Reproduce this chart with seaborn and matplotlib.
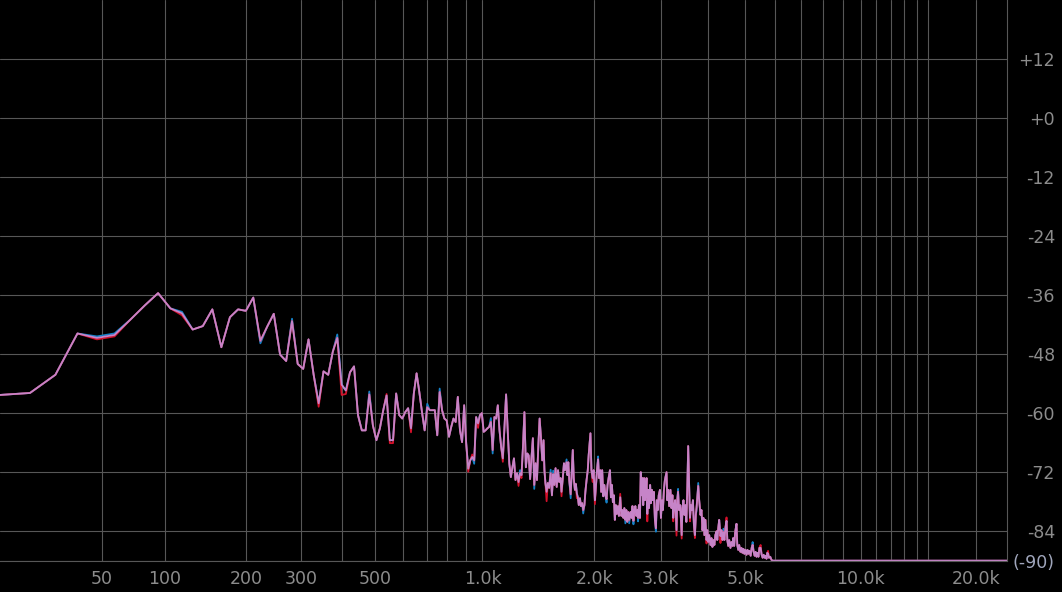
import numpy as np
import matplotlib
matplotlib.use("Agg")
import matplotlib.pyplot as plt
from matplotlib.ticker import NullLocator
import seaborn as sns

# ---------------- data ----------------
BIN_HZ = 48000 / 4096  # FFT bin width (Hz)

# dB per FFT bin, bins 0..125 (0 Hz .. ~1.46 kHz)
low_bin_db = [
    -56.3, -55.9, -52.2, -43.8, -44.7, -44.1, -41.0, -38.1, -35.6, -38.7,
    -39.7, -43.0, -42.3, -38.9, -46.6, -40.5, -38.9, -39.2, -36.5, -45.3,
    -42.4, -39.8, -48.1, -49.4, -41.3, -50.0, -51.0, -45.0, -52.2, -58.0,
    -51.5, -52.2, -47.5, -44.7, -54.2, -55.4, -51.7, -50.5, -60.4, -63.5,
    -63.5, -56.2, -62.5, -65.5, -63.1, -59.4, -56.4, -65.5, -65.5, -56.0,
    -60.4, -61.1, -59.8, -59.0, -63.1, -56.0, -51.9, -55.7, -59.8, -63.5,
    -58.8, -59.4, -59.4, -59.4, -64.5, -55.7, -59.4, -61.1, -61.5, -64.8,
    -62.8, -61.1, -61.8, -56.7, -63.5, -65.9, -58.4, -66.2, -71.3, -69.6,
    -68.9, -69.6, -60.8, -62.1, -60.4, -60.0, -63.8, -63.5, -63.1, -62.8,
    -61.8, -67.5, -60.8, -61.1, -58.4, -63.5, -66.9, -69.2, -62.9, -56.2,
    -63.5, -70.2, -73.0, -71.0, -69.2, -73.6, -72.2, -74.0, -72.2, -72.6,
    -66.9, -59.8, -71.0, -68.2, -68.6, -73.4, -69.0, -65.1, -74.6, -70.2,
    -73.6, -66.9, -61.1, -64.9, -69.6, -65.5,
]

# dense upper part of the spectrum (Hz, dB)
high_hz = [
    1473, 1482, 1493, 1504, 1516, 1531, 1543, 1555, 1566, 1578, 1589, 1602, 1614,
    1627, 1637, 1650, 1662, 1672, 1689, 1698, 1707, 1717,
    1732, 1744, 1755, 1765, 1778, 1789, 1799, 1810, 1821,
    1834, 1845, 1859, 1871, 1885, 1896, 1910, 1924, 1935,
    1956, 1968, 1982, 1995, 2010, 2024, 2036, 2050, 2061,
    2077, 2089, 2102, 2116, 2130, 2144, 2159, 2172, 2186,
    2204, 2217, 2231, 2244, 2258, 2271, 2285, 2298, 2315, 2328,
    2347, 2364, 2379, 2393, 2407, 2422, 2436, 2450, 2465, 2479,
    2499, 2514, 2529, 2544, 2559, 2574, 2590, 2605, 2617, 2630,
    2647, 2660, 2674, 2687, 2700, 2715, 2728, 2744, 2755, 2768, 2784, 2797,
    2816, 2830, 2847, 2864, 2881, 2899, 2916, 2933, 2950, 2967,
    2989, 3007, 3025, 3043, 3062, 3080, 3111, 3125, 3143, 3161,
    3186, 3205, 3224, 3240, 3259, 3278, 3305, 3320, 3336, 3355,
    3381, 3410, 3426, 3447, 3467, 3487, 3508, 3528, 3547, 3565,
    3585, 3607, 3628, 3650, 3672, 3694, 3715, 3730, 3752, 3769, 3791,
    3821, 3844, 3867, 3890, 3913, 3936, 3963, 3982, 4005, 4028,
    4058, 4083, 4107, 4132, 4156, 4180, 4210, 4229, 4254, 4278,
    4311, 4337, 4363, 4389, 4415, 4441, 4472, 4493, 4518, 4544,
    4579, 4606, 4634, 4656, 4683, 4711, 4749, 4771, 4799, 4826,
    4864, 4893, 4922, 4951, 4980, 5010, 5045, 5074, 5103, 5133,
    5172, 5203, 5234, 5265, 5296, 5327, 5358, 5389, 5420, 5451,
    5492, 5525, 5558, 5591, 5624, 5657, 5690, 5716, 5742, 5775,
    5818, 5860, 5895, 24000,
]
high_db = [
    -71.6, -74.2, -76.0, -74.2, -75.2, -72.2, -76.7, -72.4, -74.6, -71.2, -75.0, -71.6, -74.0,
    -73.2, -76.0, -73.2, -70.2, -71.6, -70.0, -72.6, -70.0, -73.6,
    -76.5, -71.6, -67.5, -73.2, -75.6, -74.4, -76.3, -77.1, -78.7,
    -77.3, -78.9, -78.3, -79.7, -78.7, -76.0, -73.6, -71.6, -68.5,
    -64.1, -71.6, -73.2, -71.6, -77.7, -74.6, -71.6, -69.4, -73.2,
    -71.6, -76.0, -71.6, -76.9, -74.6, -76.7, -77.5, -74.6, -73.2,
    -71.6, -77.1, -74.6, -78.1, -76.7, -81.7, -78.7, -80.5, -78.9, -80.9,
    -77.1, -80.9, -79.7, -81.3, -79.3, -81.7, -79.7, -82.1, -80.1, -81.7,
    -80.1, -81.3, -78.9, -81.9, -79.7, -78.9, -80.9, -79.7, -81.3, -78.7,
    -81.3, -72.0, -76.7, -73.2, -78.7, -73.2, -77.7, -75.6, -73.2, -80.5, -75.6, -79.3,
    -74.6, -78.3, -75.6, -77.7, -76.0, -81.7, -83.4, -77.7, -79.7, -76.7,
    -75.6, -81.3, -77.7, -79.7, -75.6, -73.6, -72.0, -77.7, -75.6, -78.9,
    -75.6, -79.3, -76.7, -81.3, -78.7, -77.7, -83.8, -77.7, -76.0, -79.7,
    -78.7, -84.8, -79.3, -77.7, -80.7, -78.7, -82.1, -75.6, -66.7, -73.6,
    -81.3, -78.7, -79.7, -77.7, -82.7, -84.8, -80.7, -79.3, -76.7, -74.8, -77.7,
    -80.7, -79.7, -83.8, -81.3, -84.8, -81.7, -85.8, -83.8, -86.2, -84.8,
    -86.8, -85.4, -87.2, -85.8, -86.8, -84.8, -84.0, -85.8, -83.4, -81.7,
    -85.0, -83.8, -85.8, -84.2, -85.8, -83.4, -81.9, -85.8, -87.0, -85.8,
    -87.4, -86.2, -87.0, -85.4, -87.0, -84.2, -82.5, -86.8, -87.8, -86.8,
    -88.2, -87.4, -88.4, -87.6, -88.6, -87.8, -88.8, -87.8, -88.6, -88.0,
    -89.0, -87.4, -86.8, -88.2, -89.0, -88.2, -89.2, -88.4, -89.2, -87.4,
    -87.4, -88.8, -89.4, -88.8, -89.4, -89.0, -89.6, -88.4, -88.6, -89.4,
    -89.2, -89.8, -90.0, -90.0,
]

# where the left (red) / right (blue) channel pokes out of the overlap
red_tip_hz = [46.9, 58.6, 117.2, 339.8, 398.4, 410.2, 539.1, 550.8, 562.5, 632.8, 914.1,
              937.5, 972.7, 1136.7, 1253.9, 1277.3, 1493, 1637, 1799, 1982, 2010,
              2347, 2768, 3240, 3305, 3410, 3585, 3694, 3963, 4311, 4472, 5492, 5742]
red_tip_db = [-45.0, -44.4, -40.1, -58.7, -56.3, -56.1, -56.1, -66.1, -66.1, -63.9, -71.9,
              -68.4, -63.0, -69.9, -74.8, -73.2, -77.9, -76.9, -77.3, -74.0, -78.5,
              -76.4, -82.0, -82.0, -84.9, -85.5, -82.0, -85.4, -86.5, -86.4, -81.2, -86.8, -88.0]
blue_tip_hz = [46.9, 58.6, 117.2, 222.7, 281.3, 386.7, 480.5, 703.1, 761.7, 949.2, 1054.7,
               1066.4, 1265.6, 1382.8, 1531, 1555, 1689, 1732, 1871, 2050, 2159,
               2422, 2479, 2544, 2617, 2916, 3336, 3730, 3769, 4210, 4389, 5234]
blue_tip_db = [-44.4, -43.8, -39.4, -45.8, -40.8, -44.0, -55.6, -58.1, -55.0, -70.3, -61.0,
               -68.2, -71.6, -75.4, -71.5, -71.7, -69.4, -77.3, -80.4, -68.8, -78.2,
               -82.4, -82.4, -82.6, -82.0, -84.1, -75.4, -79.9, -74.2, -84.3, -83.5, -86.2]

grid_hz = [50, 100, 200, 300, 400, 500, 600, 700, 800, 900, 1000,
           2000, 3000, 4000, 5000, 6000, 7000, 8000, 9000, 10000,
           11000, 12000, 13000, 14000, 15000, 20000]
grid_labels = ["50", "100", "200", "300", "", "500", "", "", "", "", "1.0k",
               "2.0k", "3.0k", "", "5.0k", "", "", "", "", "10.0k",
               "", "", "", "", "", "20.0k"]
db_ticks = [12, 0, -12, -24, -36, -48, -60, -72, -84, -90]
db_labels = ["+12", "+0", "-12", "-24", "-36", "-48", "-60", "-72", "-84", "(-90)"]

# ---------------- style ----------------
sns.set_theme(style="dark")
plt.rcParams["font.family"] = ["DejaVu Sans"]

GRID = "#575757"
LABEL = "#8c8c8c"
PINK = "#c684c8"
RED = "#d4102a"
BLUE = "#1582c8"

freq = np.concatenate([np.arange(len(low_bin_db)) * BIN_HZ, np.array(high_hz, float)])
center = np.concatenate([np.array(low_bin_db, float), np.array(high_db, float)])


def with_tips(base, tip_hz, tip_db):
    out = base.copy()
    for h, d in zip(tip_hz, tip_db):
        out[int(np.argmin(np.abs(freq - h)))] = d
    return out


left = with_tips(center, red_tip_hz, red_tip_db)
right = with_tips(center, blue_tip_hz, blue_tip_db)

fig = plt.figure(figsize=(10.62, 5.92), dpi=100, facecolor="black")
ax = fig.add_axes([0.0, 31.3 / 592, 1007 / 1062, 560.7 / 592])
ax.set_facecolor("black")


def fwd(f):
    return np.log1p(np.maximum(f, 0.0) / 60.0) / np.log(401.0)


def inv(u):
    return 60.0 * (np.power(401.0, u) - 1.0)


ax.set_xscale("function", functions=(fwd, inv))

for y, c in ((right, BLUE), (left, RED), (center, PINK)):
    sns.lineplot(x=freq, y=y, ax=ax, color=c, linewidth=1.3,
                 estimator=None, sort=False, errorbar=None, legend=False)

ax.set_xlim(0, 24000)
ax.set_ylim(-90, 24)

ax.set_xticks(grid_hz)
ax.set_xticklabels(grid_labels)
ax.xaxis.set_minor_locator(NullLocator())
ax.set_yticks(db_ticks)
ax.set_yticklabels(db_labels)
ax.yaxis.set_minor_locator(NullLocator())
ax.yaxis.tick_right()

ax.grid(True, color=GRID, linewidth=0.8)
ax.set_axisbelow(True)

ax.tick_params(axis="x", which="major", direction="out", length=2.0, width=0.8,
               color=GRID, labelcolor=LABEL, labelsize=12.5, pad=5.0)
ax.tick_params(axis="y", which="major", length=0, labelcolor=LABEL,
               labelsize=12.5, pad=34.5, left=False, right=False)
for lbl in ax.get_yticklabels():
    lbl.set_horizontalalignment("right")
ax.get_yticklabels()[-1].set_color("#a0a6bc")

ax.set_xlabel("")
ax.set_ylabel("")
for side in ("top", "left"):
    ax.spines[side].set_visible(False)
for side in ("bottom", "right"):
    ax.spines[side].set_visible(True)
    ax.spines[side].set_color(GRID)
    ax.spines[side].set_linewidth(0.8)

fig.savefig("out.png", dpi=100, facecolor="black")
